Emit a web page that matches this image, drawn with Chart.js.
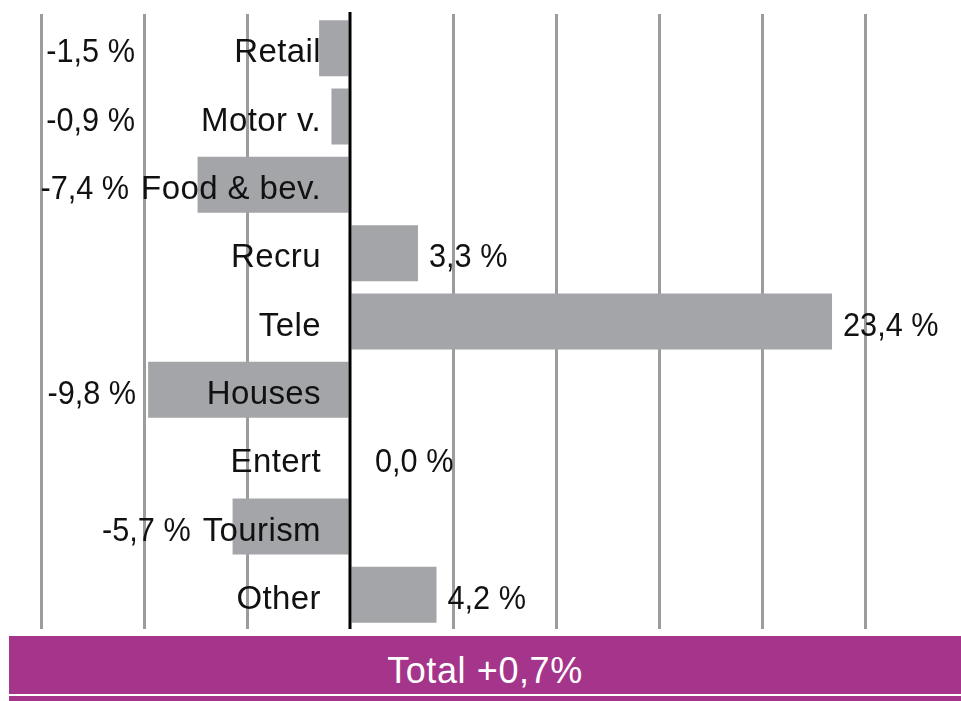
<!DOCTYPE html>
<html>
<head>
<meta charset="utf-8">
<script src="https://cdn.jsdelivr.net/npm/chart.js@4"></script>
<style>
  html, body { margin: 0; padding: 0; background: #fff; }
  #wrap { position: relative; width: 961px; height: 701px; overflow: hidden; }
  canvas { position: absolute; left: 0; top: 0; }
  #banner {
    position: absolute; left: 9px; top: 636px; width: 952px; height: 58px; overflow: hidden;
    background: #a5358a; color: #fff; text-align: center;
    font: 36px "Liberation Sans", Arial, sans-serif; letter-spacing: 0.6px;
    line-height: 69px;
  }
  #strip { position: absolute; left: 9px; top: 696px; width: 952px; height: 5px; background: #a5358a; }
</style>
</head>
<body>
<div id="wrap">
  <canvas id="c" width="961" height="701"></canvas>
  <div id="banner"></div>
  <div id="strip"></div>
</div>
<script>
const categories = ['Retail', 'Motor v.', 'Food & bev.', 'Recru', 'Tele', 'Houses', 'Entert', 'Tourism', 'Other'];
const changes = [-1.5, -0.9, -7.4, 3.3, 23.4, -9.8, 0.0, -5.7, 4.2];
const axisMin = -15;
const axisMax = 25;
const axisStep = 5;
const total = 0.7;

function fmt(v) { return v.toFixed(1).replace('.', ',') + ' %'; }
document.getElementById('banner').textContent = 'Total ' + (total >= 0 ? '+' : '') + total.toFixed(1).replace('.', ',') + '%';

const FONT = '33px "Liberation Sans", Arial, sans-serif';
const VAL_SCALE = 0.93;

function drawScaled(ctx, txt, x, y, align, sx) {
  ctx.save();
  ctx.translate(x, y);
  ctx.scale(sx, 1);
  ctx.textAlign = align;
  ctx.fillText(txt, 0, 0);
  ctx.restore();
}

const labelPlugin = {
  id: 'labels',
  afterDatasetsDraw(chart) {
    const ctx = chart.ctx;
    const xs = chart.scales.x;
    const area = chart.chartArea;
    const z = xs.getPixelForValue(0);
    ctx.save();
    // zero line
    ctx.strokeStyle = '#000';
    ctx.lineWidth = 3;
    ctx.beginPath();
    ctx.moveTo(z, area.top - 2);
    ctx.lineTo(z, area.bottom);
    ctx.stroke();

    ctx.font = FONT;
    ctx.fillStyle = '#111';
    ctx.textBaseline = 'alphabetic';
    const meta = chart.getDatasetMeta(0);
    meta.data.forEach((bar, i) => {
      const v = chart.data.datasets[0].data[i];
      const y = bar.y + 14;
      const cat = chart.data.labels[i];
      const catRight = z - 29;
      ctx.letterSpacing = '0.4px';
      const catW = ctx.measureText(cat).width;
      ctx.textAlign = 'right';
      ctx.fillText(cat, catRight, y);
      ctx.letterSpacing = '0px';
      const txt = fmt(v);
      if (v >= 0) {
        const gap = v === 0 ? 25 : 11;
        drawScaled(ctx, txt, bar.x + gap, y, 'left', VAL_SCALE);
      } else {
        let right;
        if (Math.abs(v) < 3) {
          right = area.left + 94;
        } else {
          right = Math.min(bar.x, catRight - catW) - 12;
        }
        drawScaled(ctx, txt, right, y, 'right', VAL_SCALE);
      }
    });
    ctx.restore();
  }
};

new Chart(document.getElementById('c'), {
  type: 'bar',
  data: {
    labels: categories,
    datasets: [{
      data: changes,
      backgroundColor: '#a4a5a9',
      borderWidth: 0,
      barPercentage: 0.82,
      categoryPercentage: 1
    }]
  },
  options: {
    indexAxis: 'y',
    responsive: false,
    devicePixelRatio: 1,
    animation: false,
    layout: { padding: { left: 41, right: 96, top: 14, bottom: 72 } },
    plugins: { legend: { display: false }, tooltip: { enabled: false } },
    scales: {
      x: {
        min: axisMin,
        max: axisMax,
        ticks: { display: false, stepSize: axisStep },
        border: { display: false },
        grid: {
          drawTicks: false,
          lineWidth: 3,
          color: (c) => (c.tick && c.tick.value === 0) ? 'rgba(0,0,0,0)' : '#9c9c9c'
        }
      },
      y: {
        display: false
      }
    }
  },
  plugins: [labelPlugin]
});
</script>
</body>
</html>
